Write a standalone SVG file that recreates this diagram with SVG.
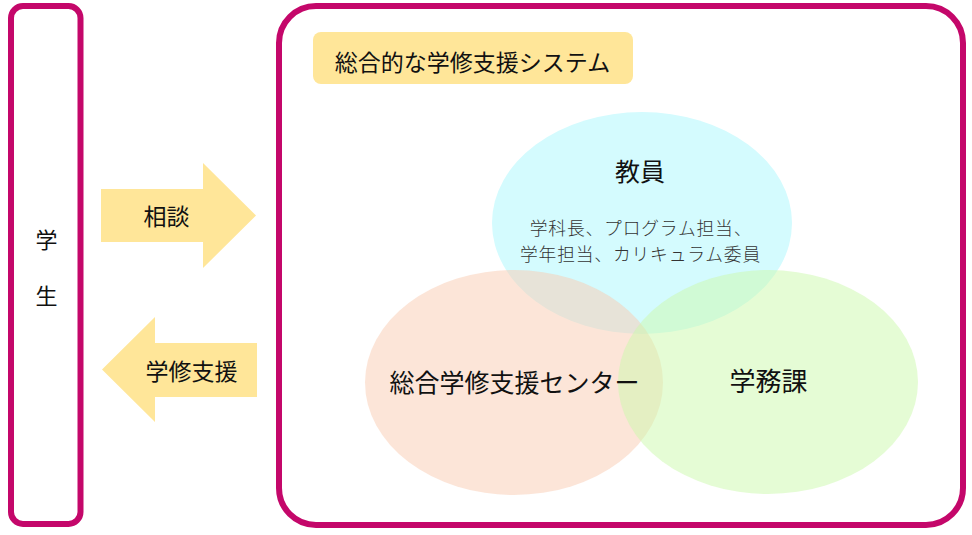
<svg xmlns="http://www.w3.org/2000/svg" width="972" height="535" viewBox="0 0 972 535">
  <style>
    .frame { fill: #ffffff; stroke: #C4076A; stroke-width: 6; }
    .label { font-family: "Noto Sans CJK JP", "Noto Sans", sans-serif; fill: #111111; text-anchor: middle; }
    .small { font-family: "Noto Sans CJK JP", "Noto Sans", sans-serif; fill: #333333; text-anchor: middle; font-weight: 300; letter-spacing: 0.8px; }
    .arrow { fill: #FFE699; }
  </style>
  <rect width="972" height="535" fill="#ffffff"/>
  <g id="student">
    <rect class="frame" x="11" y="6" width="69.5" height="518" rx="12" ry="12"/>
    <text class="label" x="46.5" y="248" font-size="22">学</text>
    <text class="label" x="46.5" y="304" font-size="22">生</text>
  </g>
  <g id="system">
    <rect class="frame" x="279" y="6" width="684" height="519" rx="37" ry="37"/>
    <g id="system-title">
      <rect x="313" y="32" width="320" height="52" rx="8" ry="8" fill="#FFE699"/>
      <text class="label" x="472.5" y="71" font-size="23">総合的な学修支援システム</text>
    </g>
    <g id="faculty">
      <ellipse cx="642" cy="223" rx="150" ry="111" fill="#D4FBFE"/>
    </g>
    <g id="center">
      <ellipse cx="514" cy="382.5" rx="149" ry="112.5" fill="#F9CBB1" fill-opacity="0.5"/>
    </g>
    <g id="academic-affairs">
      <ellipse cx="768" cy="382" rx="150" ry="112" fill="#CBF9AB" fill-opacity="0.5"/>
    </g>
    <g id="labels">
      <text class="label" x="640" y="181" font-size="25">教員</text>
      <text class="small" x="641" y="235" font-size="17.8">学科長、プログラム担当、</text>
      <text class="small" x="640.5" y="261" font-size="17.8">学年担当、カリキュラム委員</text>
      <text class="label" x="514.5" y="392" font-size="25">総合学修支援センター</text>
      <text class="label" x="768.5" y="391" font-size="26">学務課</text>
    </g>
  </g>
  <g id="connectors">
    <g id="consult">
      <polygon class="arrow" points="101,189 203,189 203,163 256,215.5 203,268 203,242 101,242"/>
      <text class="label" x="166.5" y="225" font-size="23">相談</text>
    </g>
    <g id="support">
      <polygon class="arrow" points="102,369.5 155,317 155,343 257,343 257,397 155,397 155,422"/>
      <text class="label" x="191.5" y="380" font-size="23">学修支援</text>
    </g>
  </g>
</svg>
